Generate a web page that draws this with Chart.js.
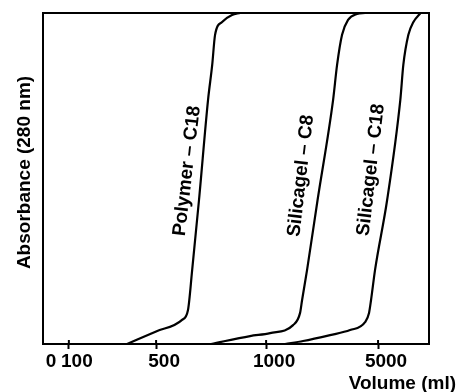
<!DOCTYPE html>
<html>
<head>
<meta charset="utf-8">
<title>Breakthrough curves</title>
<script src="https://cdn.jsdelivr.net/npm/chart.js@4/dist/chart.umd.min.js"></script>
<style>
  body { margin: 0; background: #fff; }
  canvas { display: block; }
</style>
</head>
<body>
<canvas id="chart" width="458" height="392"></canvas>
<script>
// Breakthrough curves - absorbance vs. volume

// Data (volume in ml, absorbance normalised 0..1)
const polymerC18Volume = [367, 500, 618, 645, 664, 695, 736, 755, 768, 800, 845, 882];
const polymerC18Abs    = [0, 0.038, 0.073, 0.103, 0.224, 0.435, 0.737, 0.843, 0.934, 0.973, 0.994, 1.0];

const silicaC8Volume = [750, 927, 1143, 1964, 2214, 2286, 2464, 2839, 3393, 3536, 3714, 3928, 4250, 4536];
const silicaC8Abs    = [0, 0.024, 0.033, 0.057, 0.094, 0.133, 0.224, 0.435, 0.737, 0.843, 0.934, 0.979, 0.997, 1.0];

const silicaC18Volume = [1679, 2321, 3286, 4000, 4536, 4678, 4750, 4893, 5321, 5786, 5893, 6071, 6250, 6500];
const silicaC18Abs    = [0, 0.009, 0.027, 0.042, 0.066, 0.094, 0.133, 0.224, 0.435, 0.737, 0.843, 0.934, 0.973, 1.0];

const seriesNames = ['Polymer \u2013 C18', 'Silicagel \u2013 C8', 'Silicagel \u2013 C18'];

// Tick labels of the (non-uniform) volume axis
const tickVolumes = [0, 100, 500, 1000, 5000];
const tickLabels  = ['0', '100', '500', '1000', '5000'];

// Curve label anchors in data units (volume, absorbance)
const labelVolumes = [641, 2250, 4750];
const labelAbs     = [0.523, 0.508, 0.526];

// The volume axis is broken: each interval has its own length
const axisBreaks = [0, 100, 500, 1000, 5000, 6800];
const axisFrac   = [0, 0.067, 0.293, 0.578, 0.868, 1];

function toAxis(volume) {
  for (let i = 1; i < axisBreaks.length; i++) {
    if (volume <= axisBreaks[i]) {
      const t = (volume - axisBreaks[i - 1]) / (axisBreaks[i] - axisBreaks[i - 1]);
      return axisFrac[i - 1] + t * (axisFrac[i] - axisFrac[i - 1]);
    }
  }
  return 1;
}

function toPoints(volumes, abs) {
  return volumes.map((v, i) => ({ x: toAxis(v), y: abs[i] }));
}

const FONT = 'Liberation Sans, Arial, Helvetica, sans-serif';

// Frame, crossing tick marks, axis titles and curve labels
const decorations = {
  id: 'decorations',
  afterDraw(chart) {
    const { ctx, chartArea: area, scales } = chart;
    ctx.save();
    ctx.strokeStyle = '#000';
    ctx.lineWidth = 2;
    ctx.strokeRect(area.left, area.top, area.right - area.left, area.bottom - area.top);

    // inner half of the tick marks
    scales.x.ticks.forEach(tick => {
      if (tick.value === 0) return;
      const px = scales.x.getPixelForValue(tick.value);
      ctx.beginPath();
      ctx.moveTo(px, area.bottom - 4);
      ctx.lineTo(px, area.bottom);
      ctx.stroke();
    });

    ctx.fillStyle = '#000';
    ctx.font = 'bold 19px ' + FONT;

    // y title
    ctx.save();
    ctx.translate(25, (area.top + area.bottom) / 2 - 6);
    ctx.rotate(-Math.PI / 2);
    ctx.textAlign = 'center';
    ctx.textBaseline = 'middle';
    ctx.fillText('Absorbance (280 nm)', 0, 0);
    ctx.restore();

    // x title
    ctx.textAlign = 'right';
    ctx.textBaseline = 'alphabetic';
    ctx.fillText('Volume (ml)', chart.width - 2, chart.height - 3);

    // curve labels
    seriesNames.forEach((name, i) => {
      const x = scales.x.getPixelForValue(toAxis(labelVolumes[i]));
      const y = scales.y.getPixelForValue(labelAbs[i]);
      ctx.save();
      ctx.translate(x, y);
      ctx.rotate(-83.4 * Math.PI / 180);
      ctx.textAlign = 'center';
      ctx.textBaseline = 'middle';
      ctx.fillText(name, 0, 0);
      ctx.restore();
    });
    ctx.restore();
  }
};

function makeDataset(label, volumes, abs) {
  return {
    label: label,
    data: toPoints(volumes, abs),
    borderColor: '#000',
    borderWidth: 2.2,
    pointRadius: 0,
    fill: false,
    cubicInterpolationMode: 'monotone'
  };
}

new Chart(document.getElementById('chart'), {
  type: 'line',
  data: {
    datasets: [
      makeDataset(seriesNames[0], polymerC18Volume, polymerC18Abs),
      makeDataset(seriesNames[1], silicaC8Volume, silicaC8Abs),
      makeDataset(seriesNames[2], silicaC18Volume, silicaC18Abs)
    ]
  },
  options: {
    responsive: false,
    animation: false,
    devicePixelRatio: 1,
    layout: { padding: { left: 0, right: 29, top: 13, bottom: 0 } },
    plugins: {
      legend: { display: false },
      tooltip: { enabled: false }
    },
    scales: {
      x: {
        type: 'linear',
        min: 0,
        max: 1,
        afterBuildTicks: scale => {
          scale.ticks = tickVolumes.map(v => ({ value: toAxis(v) }));
        },
        afterFit: scale => { scale.height = 48; },
        grid: {
          drawOnChartArea: false,
          drawTicks: true,
          tickLength: 5,
          tickWidth: 2,
          tickColor: ctx => (ctx.tick && ctx.tick.value === 0 ? 'rgba(0,0,0,0)' : '#000')
        },
        border: { display: false },
        ticks: {
          autoSkip: false,
          maxRotation: 0,
          padding: 1,
          labelOffset: 8,
          color: '#000',
          font: { family: FONT, size: 19, weight: 'bold' },
          callback: (value, index) => tickLabels[index]
        }
      },
      y: {
        type: 'linear',
        min: 0,
        max: 1,
        afterFit: scale => { scale.width = 43; },
        grid: { display: false },
        border: { display: false },
        ticks: { display: false }
      }
    }
  },
  plugins: [decorations]
});
</script>
</body>
</html>
